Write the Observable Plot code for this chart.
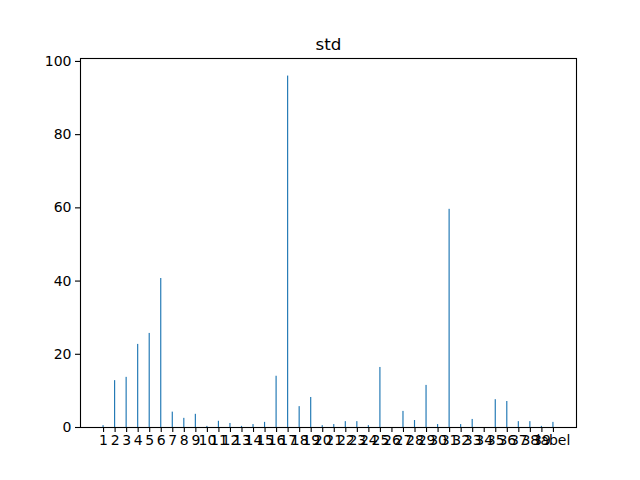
<!DOCTYPE html>
<html>
<head>
<meta charset="utf-8">
<script src="https://cdn.jsdelivr.net/npm/d3@7"></script>
<script src="https://cdn.jsdelivr.net/npm/@observablehq/plot@0.6"></script>
<style>
  body { margin: 0; background: #fff; }
  svg { font-family: "DejaVu Sans", sans-serif; }
</style>
</head>
<body>
<div id="chart"></div>
<script>
const categories = ["1","2","3","4","5","6","7","8","9","10","11","12","13","14","15","16","17","18","19","20","21","22","23","24","25","26","27","28","29","30","31","32","33","34","35","36","37","38","39","label"];
const values = [0.5,12.8,13.7,22.7,25.7,40.7,4.2,2.5,3.6,0.3,1.7,1.1,0.3,0.8,1.4,14.0,96.0,5.7,8.2,0.5,0.8,1.6,1.6,0.5,16.4,0,4.4,1.9,11.5,0.8,59.6,0.8,2.2,0,7.6,7.1,1.6,1.6,0.3,1.4];
const yTicks = [0,20,40,60,80,100];
const titleText = "std";

const data = categories.map((c, i) => ({cat: c, v: values[i]}));

const chart = Plot.plot({
  width: 640,
  height: 480,
  marginLeft: 80,
  marginRight: 64,
  marginTop: 58,
  marginBottom: 53,
  style: {fontFamily: "DejaVu Sans, sans-serif", fontSize: "14px", color: "#000", background: "#fff"},
  x: {domain: categories, paddingInner: 0.9, paddingOuter: 1.95, align: 0.5, round: false},
  y: {domain: [0, 100.8]},
  marks: [
    Plot.barY(data, {x: "cat", y: "v", fill: "#1f77b4"}),
    Plot.frame({stroke: "#000", strokeWidth: 1.1}),
    Plot.axisX({tickSize: 5, tickPadding: 3, label: null, fontSize: 14, stroke: "#000", strokeWidth: 1.1}),
    Plot.axisY({ticks: yTicks, tickSize: 5, tickPadding: 4, label: null, fontSize: 14, stroke: "#000", strokeWidth: 1.1}),
    Plot.text([titleText], {text: d => d, frameAnchor: "top", dy: -20, fontSize: 16.7, fill: "#000"})
  ]
});
document.getElementById("chart").appendChild(chart);
</script>
</body>
</html>
